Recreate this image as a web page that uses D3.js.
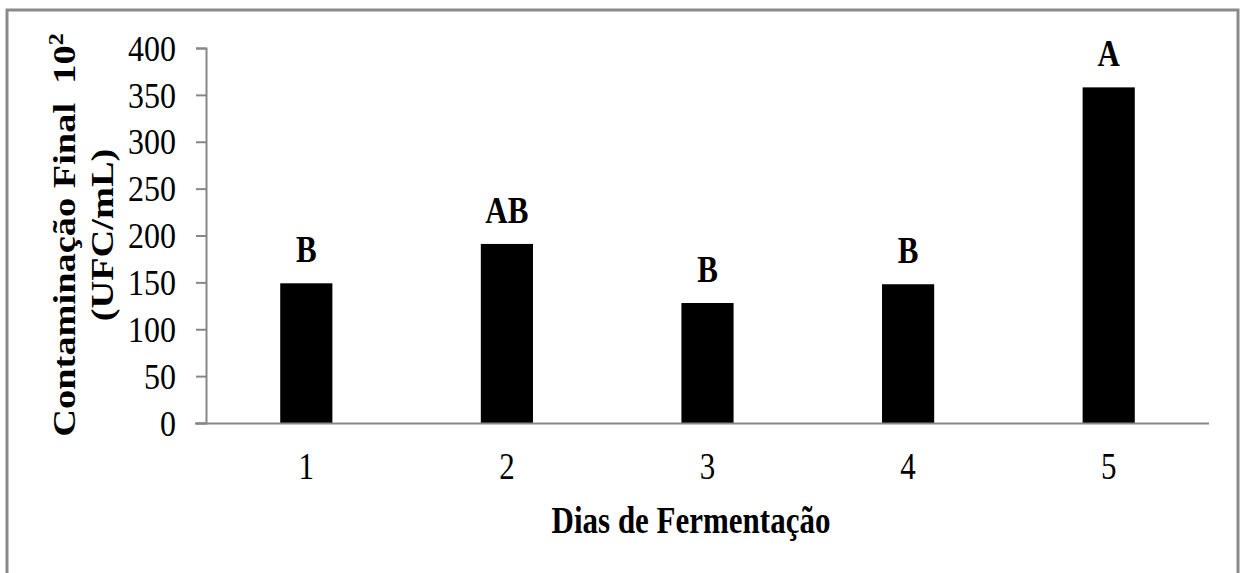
<!DOCTYPE html>
<html><head><meta charset="utf-8">
<script src="https://cdn.jsdelivr.net/npm/d3@7"></script>
<style>html,body{margin:0;padding:0;background:#fff;}svg{display:block;}</style>
</head><body>
<svg id="c" width="1243" height="573"></svg>
<script>
const days = ["1","2","3","4","5"];
const values = [149, 191, 128, 148, 358];
const letters = ["B","AB","B","B","A"];
const yTicks = [0,50,100,150,200,250,300,350,400];
const xTitle = "Dias de Fermentação";
const yTitle1 = "Contaminação Final  10";
const yTitle2 = "(UFC/mL)";

const svg = d3.select("#c");
const FONT = "'Liberation Serif','Times New Roman',serif";
const axisColor = "#878787";

svg.append("rect").attr("x",7).attr("y",10).attr("width",1231).attr("height",620)
  .attr("fill","#fff").attr("stroke","#8a8a8a").attr("stroke-width",3);

const y = d3.scaleLinear().domain([0,400]).range([423,48]);
const x = d3.scaleBand().domain(days).range([206,1209]).paddingInner(0.74).paddingOuter(0.37);

// bars
svg.append("g").selectAll("rect").data(values).join("rect")
  .attr("x",(d,i)=>x(days[i])).attr("width",x.bandwidth())
  .attr("y",d=>y(d)).attr("height",d=>y(0)-y(d)).attr("fill","#000");

// y axis
const ya = svg.append("g").attr("transform","translate(206,0)")
  .call(d3.axisLeft(y).tickValues(yTicks).tickSize(10).tickPadding(20));
ya.select(".domain").attr("stroke",axisColor).attr("stroke-width",2);
ya.selectAll(".tick line").attr("stroke",axisColor).attr("stroke-width",2);
ya.selectAll(".tick text").attr("font-family",FONT).attr("font-size",32).attr("fill","#000")
  .attr("dy","0.34em").attr("transform","scale(1,1.12)");

// x axis
const xa = svg.append("g").attr("transform","translate(0,423)")
  .call(d3.axisBottom(x).tickSize(0).tickPadding(0));
xa.select(".domain").attr("stroke",axisColor).attr("stroke-width",2).attr("d","M195,0.5H1209");
xa.selectAll(".tick text").attr("font-family",FONT).attr("font-size",31).attr("fill","#000")
  .attr("dy",null).attr("y",0).attr("transform","translate(0,56) scale(1,1.22)");

// letters above bars
svg.append("g").selectAll("text").data(values).join("text")
  .attr("transform",(d,i)=>`translate(${x(days[i])+x.bandwidth()/2},${y(d)-21}) scale(1,1.2)`)
  .attr("text-anchor","middle").attr("font-family",FONT).attr("font-weight","bold")
  .attr("font-size",31).text((d,i)=>letters[i]);

// x title
svg.append("text").attr("transform","translate(691,533) scale(1,1.22)")
  .attr("text-anchor","middle").attr("font-family",FONT).attr("font-weight","bold")
  .attr("font-size",31).text(xTitle);

// y title
const yt = svg.append("text").attr("transform","translate(75,235) rotate(-90) scale(1.2,1)")
  .attr("text-anchor","middle").attr("font-family",FONT).attr("font-weight","bold")
  .attr("font-size",32).attr("xml:space","preserve");
yt.append("tspan").text(yTitle1);
yt.append("tspan").attr("dy",-12).attr("font-size",20).text("2");
svg.append("text").attr("transform","translate(113,235) rotate(-90) scale(1.2,1)")
  .attr("text-anchor","middle").attr("font-family",FONT).attr("font-weight","bold")
  .attr("font-size",32).text(yTitle2);
</script>
</body></html>
